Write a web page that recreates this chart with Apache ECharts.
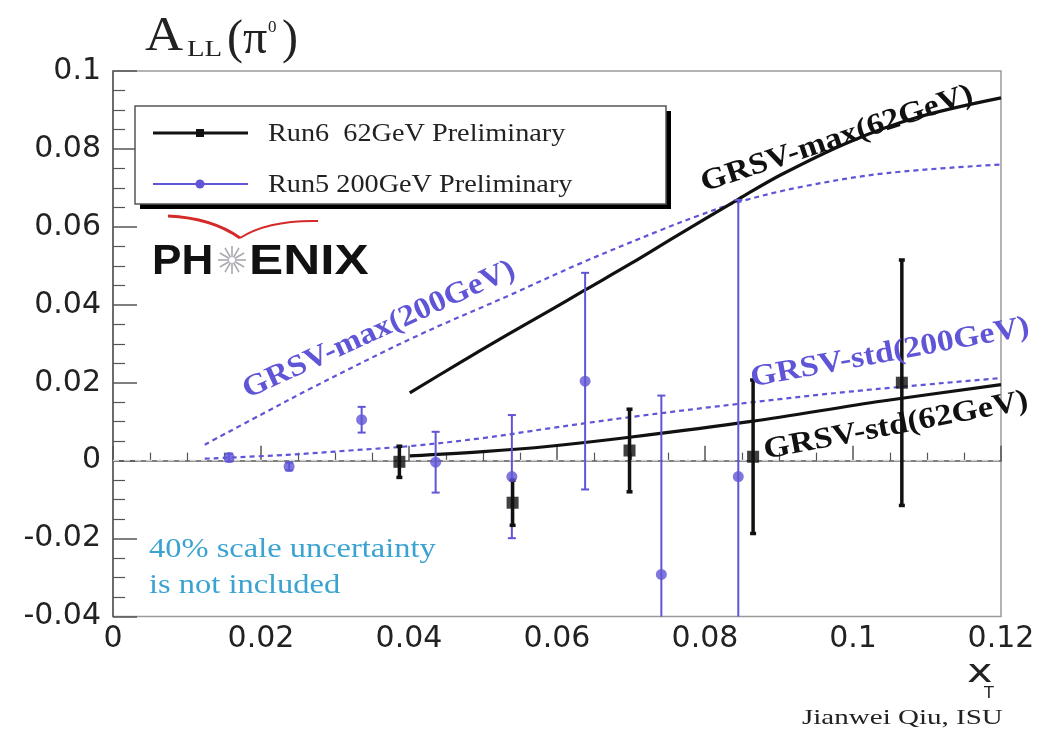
<!DOCTYPE html>
<html>
<head>
<meta charset="utf-8">
<script src="https://cdn.jsdelivr.net/npm/echarts@6/dist/echarts.min.js"></script>
<style>
  html, body { margin: 0; padding: 0; background: #fff; }
  #chart { width: 1044px; height: 738px; }
</style>
</head>
<body>
<div id="chart"></div>
<script>
// Run6 62 GeV preliminary: x_T, A_LL, error
const run6X   = [0.0387, 0.0540, 0.0698, 0.0865, 0.1066];
const run6Y   = [-0.0003, -0.0108, 0.0026, 0.0010, 0.0200];
const run6Err = [0.0040, 0.0058, 0.0106, 0.0197, 0.0315];

// Run5 200 GeV preliminary: x_T, A_LL, error
const run5X   = [0.0157, 0.0238, 0.0336, 0.0436, 0.0539, 0.0638, 0.0741, 0.0845];
const run5Y   = [0.0008, -0.0015, 0.0105, -0.0004, -0.0041, 0.0204, -0.0292, -0.0041];
const run5Err = [0.0010, 0.0010, 0.0033, 0.0078, 0.0158, 0.0278, 0.0459, 0.0710];

// GRSV theory curves
const maxX62  = [0.0401, 0.0465, 0.0532, 0.0590, 0.0638, 0.0700, 0.0760, 0.0846, 0.0904, 0.0995, 0.1085, 0.1200];
const maxY62  = [0.0174, 0.0247, 0.0322, 0.0385, 0.0438, 0.0506, 0.0575, 0.0672, 0.0735, 0.0818, 0.0880, 0.0931];
const maxX200 = [0.0124, 0.0200, 0.0270, 0.0405, 0.0540, 0.0630, 0.0738, 0.0790, 0.0846, 0.0931, 0.1046, 0.1200];
const maxY200 = [0.0041, 0.0118, 0.0188, 0.0315, 0.0428, 0.0505, 0.0590, 0.0628, 0.0664, 0.0703, 0.0738, 0.0760];
const stdX200 = [0.0124, 0.0235, 0.0320, 0.0405, 0.0500, 0.0590, 0.0700, 0.0860, 0.1000, 0.1200];
const stdY200 = [0.0005, 0.0015, 0.0026, 0.0038, 0.0058, 0.0083, 0.0112, 0.0149, 0.0178, 0.0212];
const stdX62  = [0.0401, 0.0500, 0.0590, 0.0698, 0.0860, 0.1040, 0.1200];
const stdY62  = [0.0012, 0.0023, 0.0037, 0.0060, 0.0100, 0.0153, 0.0195];

// Labels
const legendNames = ['Run6  62GeV Preliminary', 'Run5 200GeV Preliminary'];
const curveNames = ['GRSV-max(62GeV)', 'GRSV-max(200GeV)', 'GRSV-std(200GeV)', 'GRSV-std(62GeV)'];
const noteLines = ['40% scale uncertainty', 'is not included'];
const creditText = 'Jianwei Qiu, ISU';

const BLUE = '#5f55d6';
const BLACK = '#111';
const SERIF = 'Liberation Serif';
const SANS = 'DejaVu Sans';

const zip = (xs, ys) => xs.map((x, i) => [x, ys[i]]);
const zip3 = (xs, ys, es) => xs.map((x, i) => [x, ys[i], es[i]]);

function errorBars(color, width, cap) {
  return function (params, api) {
    const x = api.value(0), y = api.value(1), e = api.value(2);
    const cs = params.coordSys;
    const top = api.coord([x, y + e]);
    const bot = api.coord([x, y - e]);
    const yMin = cs.y, yMax = cs.y + cs.height;
    const t = Math.max(top[1], yMin), b = Math.min(bot[1], yMax);
    const st = { stroke: color, lineWidth: width };
    const children = [{ type: 'line', shape: { x1: top[0], y1: t, x2: top[0], y2: b }, style: st }];
    if (top[1] >= yMin) children.push({ type: 'line', shape: { x1: top[0] - cap, y1: t, x2: top[0] + cap, y2: t }, style: st });
    if (bot[1] <= yMax) children.push({ type: 'line', shape: { x1: bot[0] - cap, y1: b, x2: bot[0] + cap, y2: b }, style: st });
    return { type: 'group', children };
  };
}

function label(text, x, y, opts) {
  return Object.assign({
    type: 'text', x, y, z: 50,
    style: Object.assign({ text, textAlign: 'left', textVerticalAlign: 'middle' }, opts.style)
  }, opts.el || {});
}

const deg = d => d * Math.PI / 180;

// PHENIX star spokes
const starCx = 232, starCy = 260;
const spokes = [];
for (let k = 0; k < 12; k++) {
  const a = k * Math.PI / 6;
  spokes.push({
    type: 'line', z: 50,
    shape: { x1: starCx + 3 * Math.cos(a), y1: starCy + 3 * Math.sin(a), x2: starCx + 14 * Math.cos(a), y2: starCy + 14 * Math.sin(a) },
    style: { stroke: '#a8a8b0', lineWidth: 1.6 }
  });
}

const axisCommon = {
  type: 'value',
  axisLine: { show: true, lineStyle: { color: '#555', width: 1.5 } },
  splitLine: { show: false },
  minorSplitLine: { show: false }
};

const curveLine = (name, xs, ys, color, width, dashed, z) => ({
  name, type: 'line', data: zip(xs, ys), showSymbol: false, smooth: 0.35,
  lineStyle: { color, width, type: dashed ? [5, 4] : 'solid' }, z
});

const zeroCurve = curveLine(curveNames[3], stdX62, stdY62, BLACK, 3.2, false, 4);
zeroCurve.markLine = {
  silent: true, symbol: 'none', label: { show: false },
  lineStyle: { color: '#d2d2d2', width: 1.3, type: [6, 5] },
  data: [{ yAxis: 0 }], z: 1
};

const option = {
  backgroundColor: '#fff',
  animation: false,
  grid: { left: 113, right: 43, top: 71, bottom: 121.5, show: true, borderColor: '#9a9a9a', borderWidth: 1.5, backgroundColor: 'transparent' },
  xAxis: Object.assign({}, axisCommon, {
    min: 0, max: 0.12, interval: 0.02,
    axisTick: { inside: true, length: 15, lineStyle: { color: '#555', width: 1.5 } },
    minorTick: { show: true, splitNumber: 4, length: 8, lineStyle: { color: '#555', width: 1.2 } },
    axisLabel: { fontFamily: SANS, fontSize: 30, color: '#222', margin: 8 }
  }),
  yAxis: Object.assign({}, axisCommon, {
    min: -0.04, max: 0.1, interval: 0.02,
    axisTick: { inside: true, length: 24, lineStyle: { color: '#555', width: 1.5 } },
    minorTick: { show: true, splitNumber: 4, length: 12, lineStyle: { color: '#555', width: 1.2 } },
    axisLabel: { fontFamily: SANS, fontSize: 30, color: '#222', margin: 12 }
  }),
  series: [
    curveLine(curveNames[1], maxX200, maxY200, BLUE, 2.2, true, 3),
    curveLine(curveNames[2], stdX200, stdY200, BLUE, 2.2, true, 3),
    curveLine(curveNames[0], maxX62, maxY62, BLACK, 3.2, false, 4),
    zeroCurve,
    {
      name: legendNames[1] + ' err', type: 'custom', data: zip3(run5X, run5Y, run5Err),
      encode: { x: 0, y: 1 }, renderItem: errorBars(BLUE, 2, 4), z: 5
    },
    {
      name: legendNames[0] + ' err', type: 'custom', data: zip3(run6X, run6Y, run6Err),
      encode: { x: 0, y: 1 }, renderItem: errorBars(BLACK, 3.5, 3), z: 6
    },
    {
      name: legendNames[1], type: 'scatter', data: zip(run5X, run5Y),
      symbol: 'circle', symbolSize: 11, itemStyle: { color: BLUE }, z: 7
    },
    {
      name: legendNames[0], type: 'scatter', data: zip(run6X, run6Y),
      symbol: 'rect', symbolSize: 12, itemStyle: { color: BLACK }, z: 8
    }
  ],
  graphic: [
    // legend box with drop shadow
    { type: 'rect', z: 40, shape: { x: 140, y: 111, width: 531, height: 98 }, style: { fill: '#000' } },
    { type: 'rect', z: 41, shape: { x: 135, y: 106, width: 531, height: 98 }, style: { fill: '#fff', stroke: '#555', lineWidth: 1.5 } },
    { type: 'line', z: 42, shape: { x1: 153, y1: 133, x2: 248, y2: 133 }, style: { stroke: BLACK, lineWidth: 3.2 } },
    { type: 'rect', z: 43, shape: { x: 196, y: 129, width: 8, height: 8 }, style: { fill: BLACK } },
    { type: 'line', z: 42, shape: { x1: 153, y1: 184, x2: 248, y2: 184 }, style: { stroke: BLUE, lineWidth: 2.2 } },
    { type: 'circle', z: 43, shape: { cx: 200, cy: 184, r: 4.5 }, style: { fill: BLUE } },
    label(legendNames[0], 268, 134, { style: { font: '25px ' + SERIF, fill: '#222' }, el: { scaleX: 1.13 } }),
    label(legendNames[1], 268, 185, { style: { font: '25px ' + SERIF, fill: '#222' }, el: { scaleX: 1.13 } }),

    // title A_LL(pi^0)
    label('A', 145, 37, { style: { font: '48px ' + SERIF, fill: '#222' }, el: { scaleX: 1.1 } }),
    label('LL', 187, 50, { style: { font: '24px ' + SERIF, fill: '#222' }, el: { scaleX: 1.2 } }),
    label('(π', 227, 40, { style: { font: '48px ' + SERIF, fill: '#222' } }),
    label('0', 268, 28, { style: { font: '17px ' + SERIF, fill: '#222' } }),
    label(')', 282, 40, { style: { font: '48px ' + SERIF, fill: '#222' } }),

    // PHENIX logo
    { type: 'bezierCurve', z: 50, shape: { x1: 168, y1: 216, cpx1: 212, cpy1: 218, x2: 240, y2: 238 }, style: { stroke: '#d42a2a', lineWidth: 3, fill: null } },
    { type: 'bezierCurve', z: 50, shape: { x1: 240, y1: 238, cpx1: 268, cpy1: 220, x2: 318, y2: 221 }, style: { stroke: '#d42a2a', lineWidth: 2, fill: null } },
    label('PH', 152, 262, { style: { font: 'bold 42px Liberation Sans', fill: '#111' }, el: { scaleX: 1.05 } }),
    ...spokes,
    label('ENIX', 249, 262, { style: { font: 'bold 42px Liberation Sans', fill: '#111' }, el: { scaleX: 1.22 } }),

    // curve annotations
    label(curveNames[0], 837, 139, { style: { font: 'bold 30px ' + SERIF, fill: '#111', textAlign: 'center' }, el: { rotation: deg(18.5), scaleX: 1.12 } }),
    label(curveNames[1], 379, 330, { style: { font: 'bold 30px ' + SERIF, fill: BLUE, textAlign: 'center' }, el: { rotation: deg(24.5), scaleX: 1.1 } }),
    label(curveNames[2], 890, 353, { style: { font: 'bold 30px ' + SERIF, fill: BLUE, textAlign: 'center' }, el: { rotation: deg(10.5), scaleX: 1.12 } }),
    label(curveNames[3], 896, 426, { style: { font: 'bold 30px ' + SERIF, fill: '#111', textAlign: 'center' }, el: { rotation: deg(10.8), scaleX: 1.13 } }),

    // scale-uncertainty note
    label(noteLines[0], 149, 550, { style: { font: '28px ' + SERIF, fill: '#3aa3d2' }, el: { scaleX: 1.16 } }),
    label(noteLines[1], 149, 586, { style: { font: '28px ' + SERIF, fill: '#3aa3d2' }, el: { scaleX: 1.16 } }),

    // axis title x_T
    label('x', 967, 674, { style: { font: '32px ' + SANS, fill: '#222' }, el: { scaleX: 1.35 } }),
    label('T', 984, 694, { style: { font: '16px ' + SANS, fill: '#222' } }),

    // credit
    label(creditText, 802, 718, { style: { font: '22px ' + SERIF, fill: '#222' }, el: { scaleX: 1.32 } })
  ]
};

const chart = echarts.init(document.getElementById('chart'), null, { renderer: 'canvas' });
chart.setOption(option);
</script>
</body>
</html>
